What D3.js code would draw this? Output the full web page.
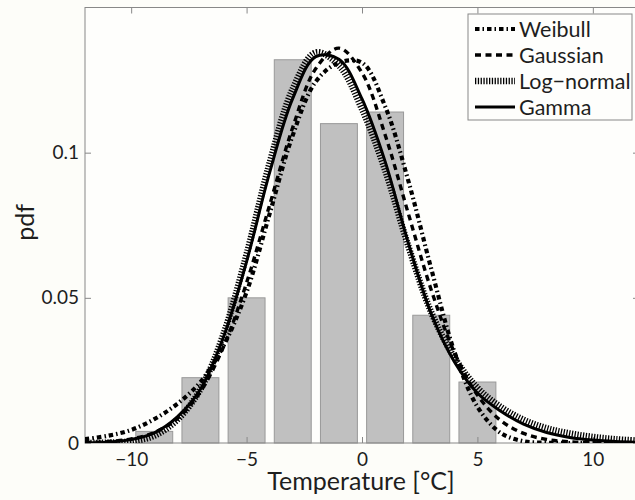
<!DOCTYPE html>
<html><head><meta charset="utf-8">
<script src="https://cdn.jsdelivr.net/npm/d3@7"></script>
<style>
body{margin:0;background:#fdfdf9;}
svg{display:block;}
text{font-family:"Lato","Open Sans",sans-serif;fill:#1e1e1e;}
</style>
</head><body>
<svg id="chart" width="635" height="500"></svg>
<script>
// ---- data ----
const binCenters = [-9, -7, -5, -3, -1, 1, 3, 5];
const binHeights = [0.004, 0.0225, 0.050, 0.132, 0.110, 0.114, 0.044, 0.021];
const curveX = [-12,-11,-10,-9,-8,-7,-6,-5,-4,-3,-2,-1,0,1,2,3,4,5,6,7,8,9,10,11,12];
const weibullPdf   = [0.0013,0.0025,0.0045,0.0082,0.0135,0.0210,0.0335,0.0520,0.0790,0.1060,0.1245,0.1310,0.1310,0.1160,0.0905,0.0600,0.0315,0.0125,0.0035,0.0006,0.0001,0,0,0,0];
const gaussianPdf  = [0.0001,0.0005,0.0014,0.0036,0.0084,0.0177,0.0331,0.0552,0.0820,0.1087,0.1290,0.1360,0.1275,0.1062,0.0792,0.0527,0.0312,0.0165,0.0078,0.0033,0.0012,0.0004,0.0001,0,0];
const lognormalPdf = [0.0000,0.0001,0.0006,0.0025,0.0080,0.0185,0.0375,0.0650,0.0965,0.1220,0.1345,0.1300,0.1150,0.0940,0.0680,0.0450,0.0295,0.0190,0.0125,0.0080,0.0051,0.0033,0.0021,0.0013,0.0008];
const gammaPdf     = [0.0001,0.0003,0.0012,0.0035,0.0090,0.0185,0.0365,0.0625,0.0932,0.1187,0.1331,0.1322,0.1185,0.0970,0.0690,0.0445,0.0280,0.0172,0.0110,0.0065,0.0036,0.0019,0.0010,0.0005,0.0002];
const seriesNames = ["Weibull", "Gaussian", "Log\u2212normal", "Gamma"];
const xTicks = [-10, -5, 0, 5, 10];
const yTicks = [0, 0.05, 0.1];
const xLabel = "Temperature [\u00B0C]";
const yLabel = "pdf";

// ---- layout ----
const svg = d3.select("#chart");
const L = 85, T = 7.5, R = 639, B = 443;
const x = d3.scaleLinear().domain([-12, 12]).range([L, R]);
const y = d3.scaleLinear().domain([0, 0.15]).range([B, T]);
const binWidth = 2, barFrac = 0.8;

svg.append("rect").attr("width", 635).attr("height", 500).attr("fill", "#fdfdf9");
svg.append("rect").attr("x", L).attr("y", T).attr("width", R - L).attr("height", B - T).attr("fill", "#fefefc");

svg.append("clipPath").attr("id", "clip").append("rect")
  .attr("x", L).attr("y", T - 5).attr("width", R - L).attr("height", B - T + 5);

// bars
svg.append("g").selectAll("rect").data(binCenters).join("rect")
  .attr("x", (d) => x(d - binWidth * barFrac / 2))
  .attr("width", (d) => x(d + binWidth * barFrac / 2) - x(d - binWidth * barFrac / 2))
  .attr("y", (d, i) => y(binHeights[i]))
  .attr("height", (d, i) => y(0) - y(binHeights[i]))
  .attr("fill", "#c0c0c0").attr("stroke", "#999").attr("stroke-width", 1);

// axes / frame
const fmtX = (d) => d < 0 ? "\u2212" + Math.abs(d) : String(d);
const fmtY = (d) => d === 0 ? "0" : String(d);
const styleAxis = (g) => {
  g.select(".domain").remove();
  g.selectAll(".tick line").attr("stroke", "#888");
  g.selectAll(".tick text").attr("font-size", 19).style("font-family", "Lato, 'Open Sans', sans-serif").attr("fill", "#1e1e1e");
};
svg.append("g").attr("transform", `translate(0,${B})`)
  .call(d3.axisBottom(x).tickValues(xTicks).tickFormat(fmtX).tickSize(-6).tickPadding(10)).call(styleAxis);
svg.append("g").attr("transform", `translate(0,${T})`)
  .call(d3.axisTop(x).tickValues(xTicks).tickFormat("").tickSize(-6)).call(styleAxis);
svg.append("g").attr("transform", `translate(${L},0)`)
  .call(d3.axisLeft(y).tickValues(yTicks).tickFormat(fmtY).tickSize(-6).tickPadding(6)).call(styleAxis);
svg.append("g").attr("transform", `translate(${R},0)`)
  .call(d3.axisRight(y).tickValues(yTicks).tickFormat("").tickSize(-6)).call(styleAxis);
svg.append("rect").attr("x", L).attr("y", T).attr("width", R - L).attr("height", B - T)
  .attr("fill", "none").attr("stroke", "#888").attr("stroke-width", 1);

// curves
const styles = [
  {w: 4.2, dash: "4.5,3,1.5,3"},
  {w: 3.4, dash: "6,4.5"},
  {w: 6.5, dash: "1.3,1.5"},
  {w: 3, dash: null}
];
const curveData = [weibullPdf, gaussianPdf, lognormalPdf, gammaPdf];
const line = d3.line().x((d) => x(d[0])).y((d) => y(d[1])).curve(d3.curveCatmullRom.alpha(0.5));
const cg = svg.append("g").attr("clip-path", "url(#clip)");
curveData.forEach((vals, i) => {
  cg.append("path").datum(curveX.map((xv, j) => [xv, vals[j]]))
    .attr("d", line).attr("fill", "none").attr("stroke", "#000")
    .attr("stroke-width", styles[i].w)
    .attr("stroke-dasharray", styles[i].dash);
});

// legend
const lg = svg.append("g");
lg.append("rect").attr("x", 468).attr("y", 14).attr("width", 164).attr("height", 106)
  .attr("fill", "#fefefc").attr("stroke", "#888").attr("stroke-width", 1);
seriesNames.forEach((name, i) => {
  const yy = 29 + i * 26;
  lg.append("line").attr("x1", 475).attr("x2", 515).attr("y1", yy).attr("y2", yy)
    .attr("stroke", "#000").attr("stroke-width", styles[i].w).attr("stroke-dasharray", styles[i].dash);
  lg.append("text").attr("x", 519).attr("y", yy).attr("dy", "0.36em").attr("font-size", 21.5).text(name);
});

// axis labels
svg.append("text").attr("x", 361).attr("y", 490)
  .attr("text-anchor", "middle").attr("font-size", 25).text(xLabel);
svg.append("text").attr("transform", `translate(25,${(T + B) / 2 - 3}) rotate(-90)`).attr("dy", "0.35em")
  .attr("text-anchor", "middle").attr("font-size", 25).text(yLabel);
</script>
</body></html>
